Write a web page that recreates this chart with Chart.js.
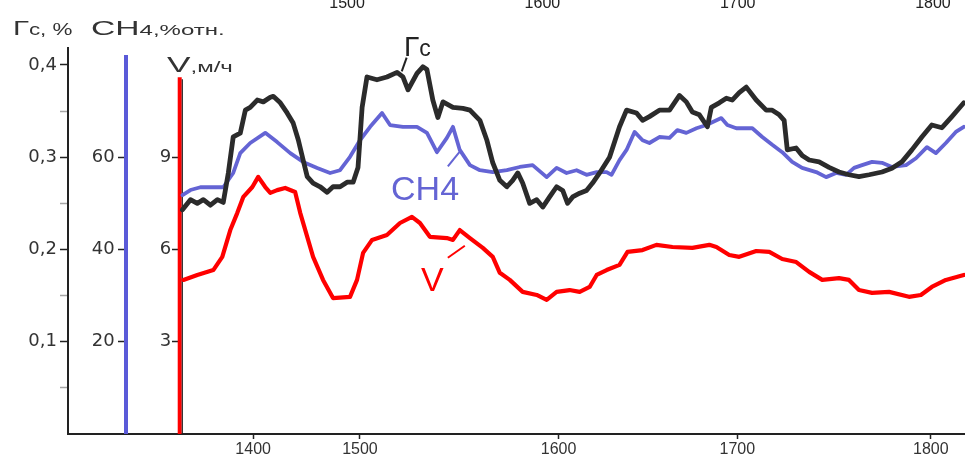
<!DOCTYPE html>
<html>
<head>
<meta charset="utf-8">
<script src="https://cdn.jsdelivr.net/npm/chart.js@4.4.1/dist/chart.umd.min.js"></script>
<style>
  body { margin: 0; background: #fff; }
  #wrap { position: relative; width: 965px; height: 466px; }
</style>
</head>
<body>
<div id="wrap"><canvas id="chart" width="965" height="466"></canvas></div>
<script>
// x is in units of the top scale; the bottom scale has its own (uneven) tick places
const gcX = [1415.7,1419.8,1423.3,1426.4,1430.0,1433.6,1436.6,1439.2,1441.7,1445.3,
  1447.9,1450.4,1454.0,1457.1,1460.7,1462.2,1465.8,1469.3,1472.4,1475.0,
  1477.5,1479.6,1482.6,1486.2,1489.8,1492.8,1496.4,1500.0,1503.1,1505.6,
  1507.7,1510.2,1515.3,1520.4,1525.6,1528.6,1531.2,1535.8,1538.8,1540.9,
  1543.9,1546.5,1549.1,1554.2,1559.3,1562.9,1568.0,1571.5,1574.6,1578.2,
  1581.8,1584.8,1587.4,1589.9,1593.5,1597.1,1600.2,1603.7,1607.3,1610.4,
  1612.9,1615.5,1619.1,1622.6,1625.7,1629.3,1634.4,1639.5,1643.1,1648.2,
  1651.3,1654.8,1659.9,1665.1,1670.2,1673.7,1676.8,1680.4,1684.5,1686.5,
  1690.6,1694.2,1697.2,1700.8,1704.4,1709.5,1714.6,1717.7,1721.3,1723.8,
  1725.4,1729.9,1733.0,1736.6,1741.7,1746.8,1751.9,1757.0,1762.1,1767.3,
  1773.9,1779.0,1784.1,1789.2,1794.3,1799.4,1804.6,1809.7,1815.8];
const gcY = [0.243,0.254,0.250,0.254,0.248,0.254,0.251,0.283,0.322,0.326,
  0.351,0.354,0.362,0.360,0.365,0.366,0.359,0.348,0.337,0.319,
  0.297,0.279,0.272,0.268,0.262,0.268,0.268,0.273,0.273,0.289,
  0.354,0.387,0.384,0.387,0.392,0.387,0.373,0.391,0.398,0.395,
  0.362,0.343,0.360,0.354,0.353,0.351,0.340,0.319,0.294,0.275,
  0.268,0.275,0.283,0.272,0.250,0.254,0.246,0.257,0.268,0.264,
  0.250,0.257,0.261,0.264,0.272,0.283,0.300,0.333,0.351,0.348,
  0.340,0.344,0.351,0.351,0.367,0.360,0.349,0.346,0.333,0.354,
  0.359,0.364,0.362,0.370,0.376,0.362,0.351,0.351,0.346,0.340,
  0.308,0.310,0.302,0.297,0.295,0.289,0.284,0.281,0.279,0.281,
  0.284,0.288,0.295,0.308,0.322,0.335,0.332,0.344,0.359];

const ch4X = [1415.7,1419.8,1424.9,1436.6,1441.7,1445.3,1450.4,1458.1,1464.2,1470.9,
  1477.5,1484.7,1491.3,1496.4,1501.5,1506.6,1511.8,1517.9,1522.0,1528.6,
  1535.8,1540.9,1546.0,1551.1,1554.2,1557.7,1562.9,1568.0,1574.6,1581.8,
  1588.4,1595.0,1602.2,1607.3,1612.4,1617.5,1622.6,1627.8,1632.9,1635.4,
  1639.5,1643.1,1647.2,1651.3,1654.8,1659.9,1665.1,1669.1,1673.7,1678.9,
  1684.0,1687.0,1691.6,1694.7,1699.3,1707.5,1712.6,1717.7,1722.8,1727.9,
  1733.0,1740.2,1745.3,1750.4,1755.5,1759.6,1763.7,1768.8,1773.9,1779.0,
  1786.2,1791.3,1796.9,1801.5,1806.6,1811.7,1815.8];
const ch4Y = [51.8,52.9,53.5,53.5,56.6,60.9,63.1,65.3,63.3,60.9,
  59.0,57.7,56.6,57.2,60.1,63.7,66.6,69.6,67.0,66.6,
  66.6,65.3,61.1,64.2,66.6,61.6,58.3,57.2,56.8,57.2,
  57.9,58.3,55.7,57.7,56.6,57.2,56.2,56.8,56.8,56.2,
  59.4,61.6,65.5,63.7,63.1,64.4,64.2,65.9,65.3,66.3,
  67.0,67.6,68.5,67.0,66.3,66.3,64.4,62.7,61.1,59.0,
  57.7,56.8,55.7,56.6,56.2,57.7,58.3,59.0,58.8,57.9,
  58.3,59.8,62.2,60.9,63.1,65.5,66.6];

const vX = [1416.2,1423.3,1431.5,1436.1,1440.2,1443.8,1446.9,1451.5,1454.5,1458.1,
  1460.7,1464.2,1468.3,1473.4,1476.0,1479.6,1482.6,1487.7,1492.8,1501.5,
  1505.1,1508.2,1512.8,1520.4,1527.1,1533.2,1537.3,1542.4,1551.1,1554.2,
  1557.7,1562.9,1569.5,1574.6,1578.2,1583.3,1589.9,1597.1,1602.2,1607.3,
  1613.9,1619.1,1624.2,1627.8,1632.9,1639.5,1643.6,1651.3,1658.4,1666.6,
  1676.8,1685.5,1689.1,1695.7,1700.8,1709.5,1716.2,1722.8,1730.0,1736.6,
  1743.3,1751.9,1757.0,1762.1,1768.8,1777.5,1787.7,1793.8,1799.4,1806.6,
  1815.8];
const vY = [5.01,5.17,5.33,5.76,6.63,7.19,7.71,8.03,8.36,8.03,
  7.84,7.93,8.00,7.87,7.19,6.41,5.76,5.01,4.42,4.46,
  5.01,5.89,6.31,6.47,6.86,7.06,6.86,6.41,6.37,6.31,
  6.63,6.37,6.05,5.76,5.24,5.01,4.62,4.52,4.36,4.62,
  4.68,4.62,4.78,5.17,5.33,5.50,5.92,5.98,6.15,6.08,
  6.05,6.15,6.08,5.82,5.76,5.95,5.92,5.69,5.59,5.27,
  5.01,5.07,5.01,4.68,4.59,4.62,4.46,4.52,4.78,5.01,
  5.17];

// scale ranges
const xMin = 1357.1, xMax = 1816.4;
const gcMax = 0.4184, ch4Max = 83.7, vMax = 12.55;
// tick lists
const topTicks = [1500, 1600, 1700, 1800];
const gcTicks = [0.05, 0.1, 0.15, 0.2, 0.25, 0.3, 0.35, 0.4];
const ch4Ticks = [20, 40, 60];
const vTicks = [3, 6, 9];
// bottom scale labels and where they sit on the top-scale units
const depthLabels = ['1400', '1500', '1600', '1700', '1800'];
const depthAt = [1451.9, 1506.6, 1608.3, 1699.8, 1798.9];
// where the CH4 and V axes stand (and their labels), and how high their bars go
const ch4AxisAt = 1386.8, ch4LabelAt = 1381.0, ch4AxisTop = 82.2;
const vAxisAt = 1414.3, vLabelAt = 1410.0, vAxisTop = 11.6;

const BLACK = '#2b2b2b';
const BLUE = '#6464d4';
const RED = '#ff0000';
const FONT = 'Liberation Sans, Arial, sans-serif';
const WIDE = 'DejaVu Sans, sans-serif';

function pts(xs, ys) {
  return xs.map((x, i) => ({ x: x, y: ys[i] }));
}

// fixed box size; horizontal axes also keep no side padding for their end labels
function fix(w, h) {
  return function (scale) {
    if (w !== null) scale.width = w;
    if (h !== null) {
      scale.height = h;
      scale.paddingLeft = 0;
      scale.paddingRight = 0;
    }
  };
}

function useTicks(list) {
  return function (scale) { scale.ticks = list.map(v => ({ value: v })); };
}

// text written in pieces, stretched sideways like the original lettering
function wideText(ctx, parts, x, y, sx) {
  ctx.save();
  ctx.translate(x, y);
  ctx.scale(sx, 1);
  let cx = 0;
  parts.forEach(p => {
    ctx.font = p[1];
    ctx.fillText(p[0], cx, 0);
    cx += ctx.measureText(p[0]).width;
  });
  ctx.restore();
}

const overlay = {
  id: 'overlay',
  beforeDatasetsDraw(chart) {
    const { ctx, scales } = chart;
    const x = scales.x;
    ctx.save();
    // CH4 axis bar
    let px = x.getPixelForValue(ch4AxisAt);
    ctx.strokeStyle = '#5a5ad8';
    ctx.lineWidth = 4;
    ctx.beginPath();
    ctx.moveTo(px, scales.yc.getPixelForValue(0));
    ctx.lineTo(px, scales.yc.getPixelForValue(ch4AxisTop));
    ctx.stroke();
    // V axis bar (red with a thin dark edge)
    px = x.getPixelForValue(vAxisAt);
    ctx.strokeStyle = RED;
    ctx.beginPath();
    ctx.moveTo(px, scales.yv.getPixelForValue(0));
    ctx.lineTo(px, scales.yv.getPixelForValue(vAxisTop));
    ctx.stroke();
    ctx.strokeStyle = '#222';
    ctx.lineWidth = 1.2;
    ctx.beginPath();
    ctx.moveTo(px + 2.6, scales.yv.getPixelForValue(0));
    ctx.lineTo(px + 2.6, scales.yv.getPixelForValue(vAxisTop) + 2);
    ctx.stroke();
    ctx.restore();
  },
  afterDraw(chart) {
    const { ctx, scales } = chart;
    const x = scales.x, y = scales.y;
    ctx.save();
    ctx.textBaseline = 'alphabetic';

    // axis titles
    ctx.fillStyle = '#333';
    wideText(ctx, [['Г', '21px ' + FONT], ['с, %', '16px ' + FONT]], 13, 35, 1.4);
    wideText(ctx, [['CH', '21px ' + FONT], ['4,%отн.', '15px ' + FONT]], 91, 35, 1.6);
    wideText(ctx, [['V', '22px ' + FONT], [',м/ч', '15px ' + FONT]], 167, 72, 1.6);

    // curve labels with leader strokes
    ctx.lineWidth = 2;
    ctx.fillStyle = '#222';
    ctx.strokeStyle = '#222';
    let lx = x.getPixelForValue(1529.2), ly = y.getPixelForValue(0.410);
    wideText(ctx, [['Г', '28px ' + FONT], ['с', '23px ' + FONT]], lx, ly, 1.0);
    ctx.beginPath();
    ctx.moveTo(x.getPixelForValue(1528.0), y.getPixelForValue(0.393));
    ctx.lineTo(x.getPixelForValue(1530.5), y.getPixelForValue(0.408));
    ctx.stroke();

    ctx.fillStyle = BLUE;
    ctx.strokeStyle = BLUE;
    ctx.font = '34px ' + FONT;
    ctx.fillText('CH4', x.getPixelForValue(1522.5), y.getPixelForValue(0.254));
    ctx.beginPath();
    ctx.moveTo(x.getPixelForValue(1551.6), y.getPixelForValue(0.290));
    ctx.lineTo(x.getPixelForValue(1557.7), y.getPixelForValue(0.306));
    ctx.stroke();

    ctx.fillStyle = RED;
    ctx.strokeStyle = RED;
    ctx.font = '34px ' + FONT;
    ctx.fillText('V', x.getPixelForValue(1537.8), y.getPixelForValue(0.155));
    ctx.beginPath();
    ctx.moveTo(x.getPixelForValue(1551.6), y.getPixelForValue(0.191));
    ctx.lineTo(x.getPixelForValue(1560.3), y.getPixelForValue(0.204));
    ctx.stroke();
    ctx.restore();
  }
};

const tickFont = { family: FONT, size: 16 };
const sideFont = { family: WIDE, size: 18 };

// a y axis standing at an x value, either drawing tick marks only or labels only
function standingAxis(at, max, list, withLabels) {
  return {
    type: 'linear', position: { x: at }, min: 0, max: max,
    afterBuildTicks: useTicks(list),
    ticks: { padding: 0, color: '#333', font: sideFont, callback: v => withLabels ? String(v) : '' },
    grid: withLabels
      ? { display: false, drawTicks: false }
      : { drawOnChartArea: false, tickLength: 8, tickWidth: 1.5, tickColor: '#222' },
    border: { display: false }
  };
}

new Chart(document.getElementById('chart'), {
  type: 'line',
  data: {
    datasets: [
      { label: 'Гс', data: pts(gcX, gcY), yAxisID: 'y', borderColor: BLACK, borderWidth: 4.8 },
      { label: 'CH4', data: pts(ch4X, ch4Y), yAxisID: 'yc', borderColor: BLUE, borderWidth: 3.8 },
      { label: 'V', data: pts(vX, vY), yAxisID: 'yv', borderColor: RED, borderWidth: 4.2 }
    ]
  },
  options: {
    responsive: false,
    animation: false,
    events: [],
    layout: { padding: 0 },
    elements: {
      point: { radius: 0 },
      line: { tension: 0, borderJoinStyle: 'round', borderCapStyle: 'round' }
    },
    plugins: { legend: { display: false }, tooltip: { enabled: false } },
    scales: {
      x: {
        type: 'linear', position: 'bottom', min: xMin, max: xMax,
        afterFit: fix(null, 32),
        afterBuildTicks: useTicks(depthAt),
        ticks: {
          autoSkip: false, maxRotation: 0, padding: 1, color: '#333', font: tickFont,
          callback: (v, i) => depthLabels[i]
        },
        grid: { drawOnChartArea: false, tickLength: 5, tickColor: '#222', tickWidth: 1.5 },
        border: { color: '#222', width: 2 }
      },
      x2: {
        type: 'linear', position: 'top', min: xMin, max: xMax,
        afterFit: fix(null, 48),
        afterBuildTicks: useTicks(topTicks),
        ticks: {
          autoSkip: false, maxRotation: 0, padding: 35, color: '#222', font: tickFont,
          callback: v => String(v)
        },
        grid: { display: false, drawTicks: false },
        border: { display: false }
      },
      y: {
        type: 'linear', position: 'left', min: 0, max: gcMax,
        afterFit: fix(68, null),
        afterBuildTicks: useTicks(gcTicks),
        ticks: {
          padding: 3, color: '#333', font: sideFont,
          callback(v) {
            const r = Math.round(v * 100);
            if (r % 10 !== 0) return '';
            return (r / 100).toFixed(1).replace('.', ',');
          }
        },
        grid: {
          drawOnChartArea: false, tickLength: 8, tickWidth: 1.5,
          tickColor: c => (Math.round(c.tick.value * 100) % 10 === 0) ? '#222' : 'rgba(0,0,0,0.35)'
        },
        border: { color: '#222', width: 2 }
      },
      yc: standingAxis(ch4AxisAt, ch4Max, ch4Ticks, false),
      ycLab: standingAxis(ch4LabelAt, ch4Max, ch4Ticks, true),
      yv: standingAxis(vAxisAt, vMax, vTicks, false),
      yvLab: standingAxis(vLabelAt, vMax, vTicks, true)
    }
  },
  plugins: [overlay]
});
</script>
</body>
</html>
